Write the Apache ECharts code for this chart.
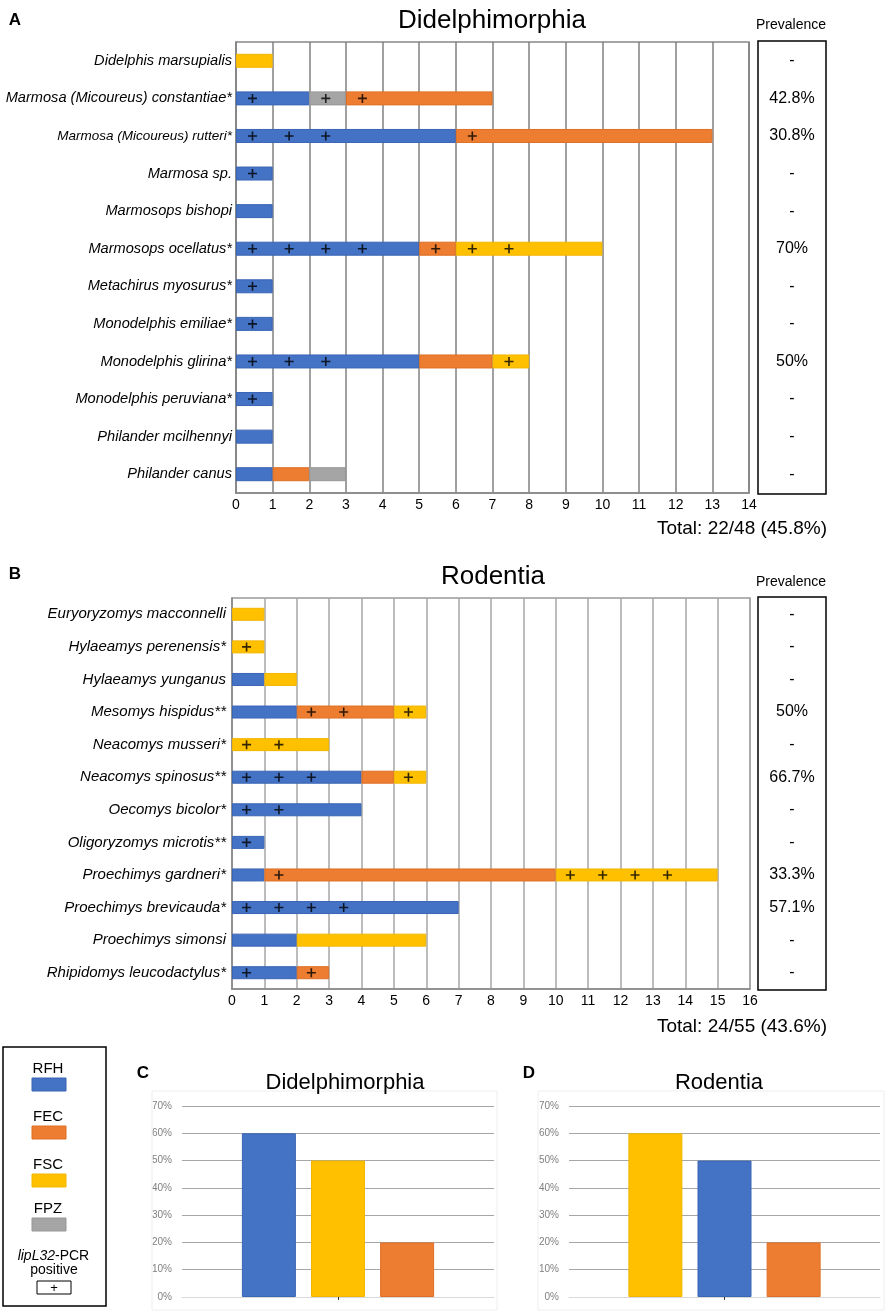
<!DOCTYPE html>
<html><head><meta charset="utf-8">
<script src="https://cdn.jsdelivr.net/npm/echarts/dist/echarts.min.js"></script>
<style>html,body{margin:0;padding:0;background:#fff}#c{width:885px;height:1313px}</style>
</head><body><div id="c"></div>
<script>
// ---------- DATA ----------
const didelSpecies = ['Didelphis marsupialis','Marmosa (Micoureus) constantiae*','Marmosa (Micoureus) rutteri*','Marmosa sp.','Marmosops bishopi','Marmosops ocellatus*','Metachirus myosurus*','Monodelphis emiliae*','Monodelphis glirina*','Monodelphis peruviana*','Philander mcilhennyi','Philander canus'];
const didelSegments = [
  [['FSC',1]],
  [['RFH',2],['FPZ',1],['FEC',4]],
  [['RFH',6],['FEC',7]],
  [['RFH',1]],
  [['RFH',1]],
  [['RFH',5],['FEC',1],['FSC',4]],
  [['RFH',1]],
  [['RFH',1]],
  [['RFH',5],['FEC',2],['FSC',1]],
  [['RFH',1]],
  [['RFH',1]],
  [['RFH',1],['FEC',1],['FPZ',1]]
];
const didelPositiveCells = [[],[0,2,3],[0,1,2,6],[0],[],[0,1,2,3,5,6,7],[0],[0],[0,1,2,7],[0],[],[]];
const didelPrevalence = ['-','42.8%','30.8%','-','-','70%','-','-','50%','-','-','-'];
const didelMax = 14;
const didelTotal = 'Total: 22/48 (45.8%)';

const rodSpecies = ['Euryoryzomys macconnelli','Hylaeamys perenensis*','Hylaeamys yunganus','Mesomys hispidus**','Neacomys musseri*','Neacomys spinosus**','Oecomys bicolor*','Oligoryzomys microtis**','Proechimys gardneri*','Proechimys brevicauda*','Proechimys simonsi','Rhipidomys leucodactylus*'];
const rodSegments = [
  [['FSC',1]],
  [['FSC',1]],
  [['RFH',1],['FSC',1]],
  [['RFH',2],['FEC',3],['FSC',1]],
  [['FSC',3]],
  [['RFH',4],['FEC',1],['FSC',1]],
  [['RFH',4]],
  [['RFH',1]],
  [['RFH',1],['FEC',9],['FSC',5]],
  [['RFH',7]],
  [['RFH',2],['FSC',4]],
  [['RFH',2],['FEC',1]]
];
const rodPositiveCells = [[],[0],[],[2,3,5],[0,1],[0,1,2,5],[0,1],[0],[1,10,11,12,13],[0,1,2,3],[],[0,2]];
const rodPrevalence = ['-','-','-','50%','-','66.7%','-','-','33.3%','57.1%','-','-'];
const rodMax = 16;
const rodTotal = 'Total: 24/55 (43.6%)';

const cCats = ['RFH','FSC','FEC'];
const cValues = [0.60, 0.50, 0.20];
const dCats = ['FSC','RFH','FEC'];
const dValues = [0.60, 0.50, 0.20];
const pctTicksMax = 0.7;

const legendItems = ['RFH','FEC','FSC','FPZ'];

// ---------- STYLE ----------
const FONT = '"Liberation Sans", Arial, sans-serif';
const COLORS = {RFH:'#4472C4', FEC:'#ED7D31', FSC:'#FFC000', FPZ:'#A5A5A5'};
const BORDERS = {RFH:'#3a65b5', FEC:'#de6f24', FSC:'#f2b600', FPZ:'#979797'};
const PLUS = 'path://M4.1,0H5.9V4.1H10V5.9H5.9V10H4.1V5.9H0V4.1H4.1Z';

function stackSeries(segments, xi, yi, barW){
  const n = Math.max(...segments.map(s=>s.length));
  const out = [];
  for (let k=0;k<n;k++){
    out.push({type:'bar', stack:'st'+xi, xAxisIndex:xi, yAxisIndex:yi, barWidth:barW, silent:true,
      data: segments.map(s => s[k] ? {value:s[k][1], itemStyle:{color:COLORS[s[k][0]], borderColor:BORDERS[s[k][0]], borderWidth:1}} : '-')});
  }
  return out;
}
function plusSeries(cells, xi, yi){
  const data = [];
  cells.forEach((arr,i)=>arr.forEach(c=>data.push([c+0.45, i])));
  return {type:'scatter', xAxisIndex:xi, yAxisIndex:yi, symbol:PLUS, symbolSize:9, silent:true, z:10,
    itemStyle:{color:'#000'}, data};
}
function pctSeries(cats, vals, xi, yi){
  return cats.map((c,i)=>({type:'bar', name:c, xAxisIndex:xi, yAxisIndex:yi, barWidth:54, barGap:'28%', silent:true,
    itemStyle:{color:COLORS[c], borderColor:BORDERS[c], borderWidth:1}, data:[vals[i]]}));
}
function catAxis(grid, data, size, margin){
  return {type:'category', gridIndex:grid, data, inverse:true,
    axisLine:{show:true, lineStyle:{color:'#888', width:1.5}}, axisTick:{show:false},
    axisLabel:{fontStyle:'italic', fontSize:size, color:'#000', margin, fontFamily:FONT,
      formatter: v => v.indexOf('rutteri')>=0 ? '{s|'+v+'}' : v,
      rich:{s:{fontSize:13.5, fontStyle:'italic', color:'#000', fontFamily:FONT}}}};
}
function prevAxis(grid, data, margin){
  return {type:'category', gridIndex:grid, data, inverse:true, position:'right',
    axisLine:{show:false}, axisTick:{show:false},
    axisLabel:{fontSize:16, color:'#000', margin, align:'center', fontFamily:FONT}};
}
function valAxis(grid, max, color){
  return {type:'value', gridIndex:grid, min:0, max, interval:1,
    axisLine:{show:true, lineStyle:{color:'#888', width:1.5}}, axisTick:{show:false},
    splitLine:{show:true, lineStyle:{color, width:1.5}},
    axisLabel:{fontSize:14, color:'#000', margin:5, fontFamily:FONT}};
}
function pctAxis(grid){
  return {type:'value', gridIndex:grid, min:0, max:pctTicksMax, interval:0.1,
    axisLine:{show:false}, axisTick:{show:false},
    splitLine:{lineStyle:{color:'#a6a6a6', width:1}},
    axisLabel:{fontSize:10, color:'#7f7f7f', margin:10, fontFamily:FONT, formatter:v=>Math.round(v*100)+'%'}};
}
function oneCatX(grid){
  return {type:'category', gridIndex:grid, data:[''],
    axisLine:{show:true, lineStyle:{color:'#d9d9d9'}},
    axisTick:{show:true, alignWithLabel:true, length:3, lineStyle:{color:'#333'}},
    axisLabel:{show:false}};
}
function T(x,y,text,size,o){
  o = o||{};
  const al = o.align||'center';
  return {type:'text', x, y, z:100, silent:true, style:{text, fontSize:size, fontFamily:FONT,
    fontWeight:o.bold?'bold':'normal', fontStyle:o.italic?'italic':'normal', fill:o.color||'#000',
    align:al, textAlign:al, verticalAlign:'middle', textVerticalAlign:'middle'}};
}
function R(x,y,w,h,fill,stroke,lw){
  return {type:'rect', silent:true, z:50, shape:{x,y,width:w,height:h}, style:{fill:fill||'none', stroke:stroke||null, lineWidth:lw||1}};
}

const graphics = [
  T(15,20,'A',17,{bold:true}),
  T(492,21,'Didelphimorphia',26),
  T(791,25,'Prevalence',14),
  R(758,41,68,453,'none','#000',1.5),
  T(827,529,didelTotal,19,{align:'right'}),
  T(15,574,'B',17,{bold:true}),
  T(493,577,'Rodentia',26),
  T(791,582,'Prevalence',14),
  R(758,597,68,393,'none','#000',1.5),
  T(827,1027,rodTotal,19,{align:'right'}),
  // C / D
  R(152,1091,345,219,'none','#eeeeee',1),
  R(538,1091,346,219,'none','#eeeeee',1),
  T(143,1073,'C',17,{bold:true}),
  T(345,1083,'Didelphimorphia',22),
  T(529,1073,'D',17,{bold:true}),
  T(719,1083,'Rodentia',22),
  // legend
  R(3,1047,103,259,'none','#000',1.5)
];
const legendY = [1069,1117,1165,1209];
legendItems.forEach((k,i)=>{
  graphics.push(T(48,legendY[i],k,15));
  graphics.push(R(32,legendY[i]+9,34,13,COLORS[k],BORDERS[k],1));
});
graphics.push(T(55,1256,'lipL32',14,{italic:true,align:'right'}));
graphics.push(T(55,1256,'-PCR',14,{align:'left'}));
graphics.push(T(54,1270,'positive',14));
graphics.push(R(37,1281,34,13,'#fff','#000',1));
graphics.push(T(54,1288,'+',13));

const G = {outerBoundsMode:'none', containLabel:false};
const option = {
  animation:false,
  backgroundColor:'#fff',
  textStyle:{fontFamily:FONT},
  grid:[
    Object.assign({left:236, top:42, width:513, height:451, show:true, borderColor:'#888', borderWidth:1.5, backgroundColor:'transparent'}, G),
    Object.assign({left:232, top:598, width:518, height:391, show:true, borderColor:'#999', borderWidth:1.5, backgroundColor:'transparent'}, G),
    Object.assign({left:182, top:1106, width:312, height:191}, G),
    Object.assign({left:569, top:1106, width:311, height:191}, G)
  ],
  xAxis:[ valAxis(0, didelMax, '#808080'), valAxis(1, rodMax, '#a6a6a6'), oneCatX(2), oneCatX(3) ],
  yAxis:[ catAxis(0, didelSpecies, 14.6, 4), prevAxis(0, didelPrevalence, 43),
          catAxis(1, rodSpecies, 15, 6), prevAxis(1, rodPrevalence, 42),
          pctAxis(2), pctAxis(3) ],
  series:[
    ...stackSeries(didelSegments, 0, 0, 14),
    plusSeries(didelPositiveCells, 0, 0),
    ...stackSeries(rodSegments, 1, 2, 13),
    plusSeries(rodPositiveCells, 1, 2),
    ...pctSeries(cCats, cValues, 2, 4),
    ...pctSeries(dCats, dValues, 3, 5)
  ],
  graphic: graphics
};
const chart = echarts.init(document.getElementById('c'), null, {renderer:'canvas'});
chart.setOption(option);
</script></body></html>
